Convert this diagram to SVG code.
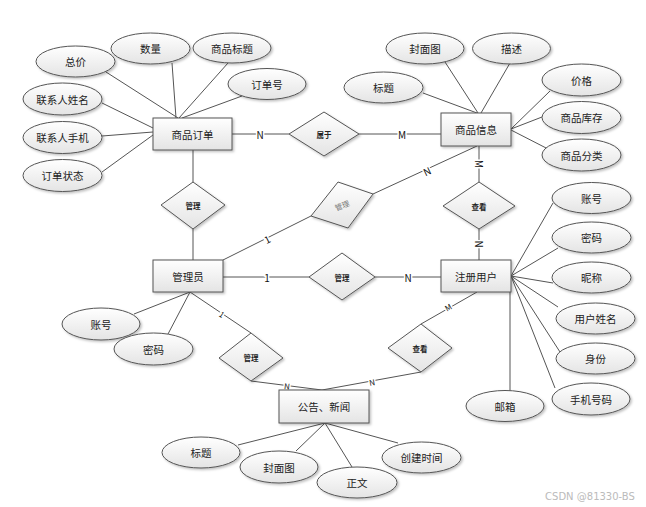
<svg xmlns="http://www.w3.org/2000/svg" width="646" height="507" viewBox="0 0 646 507">
<defs>
<linearGradient id="g" x1="0" y1="0" x2="0" y2="1">
<stop offset="0" stop-color="#ffffff"/>
<stop offset="1" stop-color="#e4e4e4"/>
</linearGradient>
<filter id="sh" x="-10%" y="-10%" width="130%" height="140%">
<feDropShadow dx="1.5" dy="1.5" stdDeviation="0.8" flood-color="#000" flood-opacity="0.25"/>
</filter>
<style>
.ent{fill:url(#g);stroke:#555;stroke-width:1;filter:url(#sh)}
.att{fill:url(#g);stroke:#555;stroke-width:1;filter:url(#sh)}
.rel{fill:url(#g);stroke:#555;stroke-width:1;filter:url(#sh)}
.ln{stroke:#555;stroke-width:1;fill:none}
text{font-family:"Noto Sans CJK SC","Noto Sans",sans-serif;fill:#222;text-anchor:middle;dominant-baseline:central}
.t{font-size:10.5px}
.e{font-size:10.5px}
.r{font-size:7.5px;font-weight:bold}
.c{font-size:10px;fill:#111;stroke:#fff;stroke-width:3px;paint-order:stroke}
.wm{font-size:10px;fill:#bbb;font-family:"DejaVu Sans",sans-serif}
</style>
</defs>
<rect width="646" height="507" fill="#fff"/>
<g id="connectors">
<line class="ln" x1="106" y1="72" x2="178" y2="118"/>
<line class="ln" x1="172" y1="63" x2="176" y2="118"/>
<line class="ln" x1="228" y1="63" x2="179" y2="118"/>
<line class="ln" x1="242" y1="96" x2="182" y2="118"/>
<line class="ln" x1="102" y1="103" x2="153" y2="128"/>
<line class="ln" x1="102" y1="136" x2="153" y2="132"/>
<line class="ln" x1="102" y1="172" x2="153" y2="135"/>
<line class="ln" x1="423" y1="93" x2="477" y2="113"/>
<line class="ln" x1="445" y1="62" x2="478" y2="113"/>
<line class="ln" x1="510" y1="63" x2="481" y2="113"/>
<line class="ln" x1="550" y1="91" x2="511" y2="129"/>
<line class="ln" x1="542" y1="117" x2="511" y2="129"/>
<line class="ln" x1="550" y1="150" x2="511" y2="130"/>
<line class="ln" x1="511" y1="276" x2="553" y2="203"/>
<line class="ln" x1="511" y1="276" x2="558" y2="248"/>
<line class="ln" x1="511" y1="276" x2="553" y2="283"/>
<line class="ln" x1="511" y1="276" x2="558" y2="307"/>
<line class="ln" x1="511" y1="276" x2="560" y2="352"/>
<line class="ln" x1="511" y1="276" x2="555" y2="388"/>
<line class="ln" x1="510" y1="277" x2="510" y2="391"/>
<line class="ln" x1="134" y1="314" x2="190" y2="292"/>
<line class="ln" x1="168" y1="334" x2="190" y2="292"/>
<line class="ln" x1="325" y1="423" x2="238" y2="445"/>
<line class="ln" x1="325" y1="423" x2="296" y2="451"/>
<line class="ln" x1="325" y1="423" x2="352" y2="467"/>
<line class="ln" x1="325" y1="423" x2="398" y2="443"/>
<line class="ln" x1="232" y1="134" x2="289" y2="134"/>
<line class="ln" x1="359" y1="134" x2="441" y2="134"/>
<line class="ln" x1="193" y1="150" x2="193" y2="182"/>
<line class="ln" x1="193" y1="229" x2="193" y2="260"/>
<line class="ln" x1="477" y1="146" x2="373" y2="194"/>
<line class="ln" x1="311" y1="216" x2="223" y2="260"/>
<line class="ln" x1="479" y1="146" x2="479" y2="182"/>
<line class="ln" x1="479" y1="229" x2="479" y2="260"/>
<line class="ln" x1="223" y1="277" x2="309" y2="277"/>
<line class="ln" x1="375" y1="277" x2="441" y2="277"/>
<line class="ln" x1="190" y1="292" x2="251" y2="333"/>
<line class="ln" x1="251" y1="381" x2="322" y2="390"/>
<line class="ln" x1="477" y1="292" x2="421" y2="324"/>
<line class="ln" x1="421" y1="372" x2="322" y2="390"/>
<text class="c" x="260" y="134">N</text>
<text class="c" x="402" y="134">M</text>
<text class="c" x="427" y="171" transform="rotate(-25 427 171)">N</text>
<text class="c" x="267" y="239" transform="rotate(-27 267 239)">1</text>
<text class="c" x="479" y="164" transform="rotate(90 479 164)">M</text>
<text class="c" x="479" y="244" transform="rotate(90 479 244)">N</text>
<text class="c" x="267" y="277">1</text>
<text class="c" x="408" y="277">N</text>
<text class="c" x="222" y="314" transform="rotate(34 222 314)" style="font-size:8px">1</text>
<text class="c" x="287" y="386" transform="rotate(7 287 386)" style="font-size:8px">N</text>
<text class="c" x="372" y="382" transform="rotate(-10 372 382)" style="font-size:8px">N</text>
<text class="c" x="448" y="307" transform="rotate(-30 448 307)" style="font-size:8px">M</text>
</g>
<g id="order"><rect class="ent" x="153" y="118" width="79" height="32"/><text class="e" x="192.5" y="134">商品订单</text></g>
<g id="goods"><rect class="ent" x="441" y="113" width="70" height="33"/><text class="e" x="476" y="129.5">商品信息</text></g>
<g id="admin"><rect class="ent" x="153" y="260" width="70" height="32"/><text class="e" x="188" y="276">管理员</text></g>
<g id="user"><rect class="ent" x="441" y="260" width="70" height="32"/><text class="e" x="476" y="276">注册用户</text></g>
<g id="news"><rect class="ent" x="279" y="390" width="90" height="33"/><text class="e" x="324" y="406.5">公告、新闻</text></g>
<g id="r-belong"><polygon class="rel" points="289,134 324,112 359,134 324,156"/><text class="r" x="324" y="134">属于</text></g>
<g id="r-manage-order"><polygon class="rel" points="161,205 193,182 225,205 193,229"/><text class="r" x="193" y="205">管理</text></g>
<g id="r-manage-goods"><polygon class="rel" points="311,216 338,182 373,194 348,228"/><text class="r" x="342" y="205" transform="rotate(-22 342 205)" style="fill:#777;font-weight:normal">管理</text></g>
<g id="r-view-goods"><polygon class="rel" points="443,206 479,182 515,206 479,229"/><text class="r" x="479" y="206">查看</text></g>
<g id="r-manage-user"><polygon class="rel" points="309,277 342,253 375,277 342,300"/><text class="r" x="342" y="277">管理</text></g>
<g id="r-manage-news"><polygon class="rel" points="219,358 251,333 283,358 251,381"/><text class="r" x="251" y="357">管理</text></g>
<g id="r-view-news"><polygon class="rel" points="388,348 421,324 452,348 421,372"/><text class="r" x="420" y="348">查看</text></g>
<g id="a-total"><ellipse class="att" cx="75.5" cy="61.5" rx="39.5" ry="15.5"/><text class="t" x="75.5" y="61.5">总价</text></g>
<g id="a-qty"><ellipse class="att" cx="150.5" cy="48.5" rx="39.5" ry="15.5"/><text class="t" x="150.5" y="48.5">数量</text></g>
<g id="a-gtitle"><ellipse class="att" cx="232" cy="48" rx="39" ry="15"/><text class="t" x="232" y="48">商品标题</text></g>
<g id="a-orderno"><ellipse class="att" cx="267" cy="84" rx="39" ry="15.5"/><text class="t" x="267" y="84">订单号</text></g>
<g id="a-cname"><ellipse class="att" cx="62.5" cy="99" rx="39.5" ry="16"/><text class="t" x="62.5" y="99">联系人姓名</text></g>
<g id="a-cphone"><ellipse class="att" cx="62.5" cy="137.5" rx="39.5" ry="16"/><text class="t" x="62.5" y="137.5">联系人手机</text></g>
<g id="a-ostatus"><ellipse class="att" cx="62.5" cy="175.5" rx="39.5" ry="16"/><text class="t" x="62.5" y="175.5">订单状态</text></g>
<g id="a-gcover"><ellipse class="att" cx="425" cy="48.5" rx="39" ry="15.5"/><text class="t" x="425" y="48.5">封面图</text></g>
<g id="a-gdesc"><ellipse class="att" cx="511.5" cy="48.5" rx="39" ry="15.5"/><text class="t" x="511.5" y="48.5">描述</text></g>
<g id="a-gt"><ellipse class="att" cx="383.5" cy="87.5" rx="39.5" ry="15.5"/><text class="t" x="383.5" y="87.5">标题</text></g>
<g id="a-price"><ellipse class="att" cx="581.5" cy="80" rx="39.5" ry="16"/><text class="t" x="581.5" y="80">价格</text></g>
<g id="a-stock"><ellipse class="att" cx="581.5" cy="117.5" rx="39.5" ry="16"/><text class="t" x="581.5" y="117.5">商品库存</text></g>
<g id="a-cat"><ellipse class="att" cx="581.5" cy="155" rx="39.5" ry="16"/><text class="t" x="581.5" y="155">商品分类</text></g>
<g id="a-uacc"><ellipse class="att" cx="591.5" cy="198" rx="39.5" ry="15.5"/><text class="t" x="591.5" y="198">账号</text></g>
<g id="a-upwd"><ellipse class="att" cx="591.5" cy="237.5" rx="39.5" ry="15.5"/><text class="t" x="591.5" y="237.5">密码</text></g>
<g id="a-nick"><ellipse class="att" cx="591.5" cy="277.5" rx="39.5" ry="15.5"/><text class="t" x="591.5" y="277.5">昵称</text></g>
<g id="a-uname"><ellipse class="att" cx="595.5" cy="318.5" rx="39.5" ry="15.5"/><text class="t" x="595.5" y="318.5">用户姓名</text></g>
<g id="a-role"><ellipse class="att" cx="595.5" cy="358.5" rx="39.5" ry="15.5"/><text class="t" x="595.5" y="358.5">身份</text></g>
<g id="a-mobile"><ellipse class="att" cx="591" cy="399" rx="39" ry="16"/><text class="t" x="591" y="399">手机号码</text></g>
<g id="a-mail"><ellipse class="att" cx="505" cy="406" rx="39" ry="15.5"/><text class="t" x="505" y="406">邮箱</text></g>
<g id="a-aacc"><ellipse class="att" cx="101" cy="324" rx="39" ry="16"/><text class="t" x="101" y="324">账号</text></g>
<g id="a-apwd"><ellipse class="att" cx="153.5" cy="349" rx="39.5" ry="16"/><text class="t" x="153.5" y="349">密码</text></g>
<g id="a-ntitle"><ellipse class="att" cx="201" cy="452.5" rx="39" ry="15.5"/><text class="t" x="201" y="452.5">标题</text></g>
<g id="a-ncover"><ellipse class="att" cx="279" cy="467" rx="39" ry="16"/><text class="t" x="279" y="467">封面图</text></g>
<g id="a-nbody"><ellipse class="att" cx="357" cy="482.5" rx="40" ry="15.5"/><text class="t" x="357" y="482.5">正文</text></g>
<g id="a-ntime"><ellipse class="att" cx="421.5" cy="457.5" rx="39.5" ry="15.5"/><text class="t" x="421.5" y="457.5">创建时间</text></g>
<text class="wm" x="590" y="496">CSDN @81330-BS</text>
</svg>
